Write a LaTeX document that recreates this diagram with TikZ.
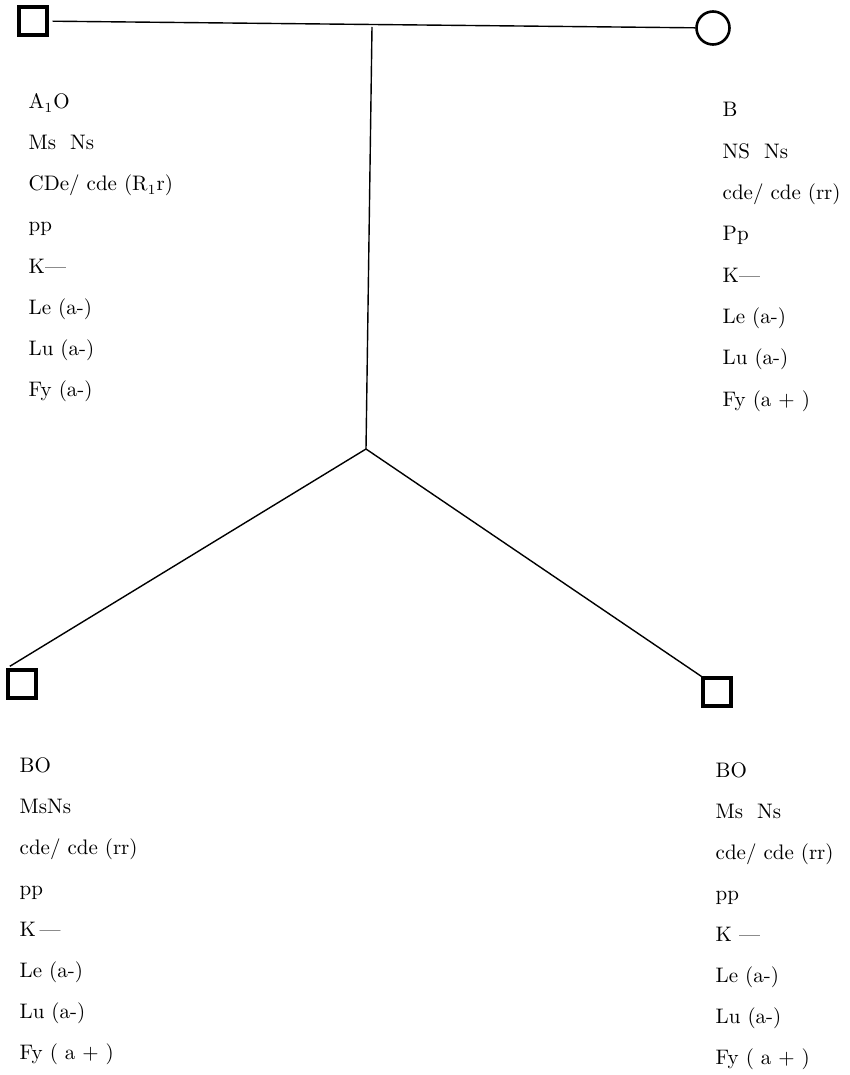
\documentclass[tikz,border=0pt]{standalone}
\usepackage{tikz}

\begin{document}
\begin{tikzpicture}[x=0.5pt,y=-0.5pt,line width=0.7pt,
  male/.style={draw,line width=1.6pt,minimum size=14pt,inner sep=0pt},
  female/.style={draw,circle,line width=1.3pt,minimum size=16.5pt,inner sep=0pt},
  lbl/.style={anchor=base west,inner sep=0pt,font=\fontsize{10.5}{12}\selectfont}]
\useasboundingbox (0,0) rectangle (850,1075);
% parents
\node[male] (father) at (33,21) {};
\node[female] (mother) at (713,28) {};
\draw[shorten <=2pt] (father) -- (mother);
\coordinate (top) at (372,27);
\coordinate (fork) at (366,449);
\draw (top) -- (fork);
% children
\node[male] (son1) at (22,684) {};
\node[male] (son2) at (717,692) {};
\draw[shorten >=2pt] (fork) -- (son1.north west);
\draw (fork) -- (son2.north west);
% blood groups
\foreach \t [count=\i from 0] in {A$_1$O, Ms\ \ Ns, CDe/ cde (R$_1$r), pp, K---, Le (a-), Lu (a-), Fy (a-)}
  \node[lbl] (fa\i) at (28,109+41*\i) {\t};
\foreach \t [count=\i from 0] in {B, NS\ \ Ns, cde/ cde (rr), Pp, K---, Le (a-), Lu (a-), Fy (a + )}
  \node[lbl] (mo\i) at (722,117+41.3*\i) {\t};
\foreach \t [count=\i from 0] in {BO, MsNs, cde/ cde (rr), pp, K\,---, Le (a-), Lu (a-), Fy ( a + )}
  \node[lbl] (sa\i) at (19,772+41.1*\i) {\t};
\foreach \t [count=\i from 0] in {BO, Ms\ \ Ns, cde/ cde (rr), pp, K\ ---, Le (a-), Lu (a-), Fy ( a + )}
  \node[lbl] (sb\i) at (715,777+41*\i) {\t};
\end{tikzpicture}
\end{document}
